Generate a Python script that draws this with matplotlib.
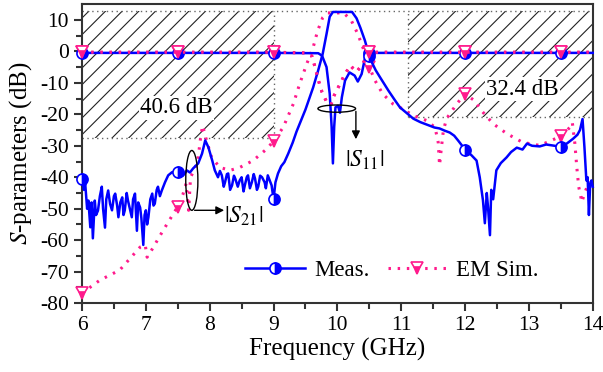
import numpy as np
import matplotlib
matplotlib.use("Agg")
import matplotlib.pyplot as plt
from matplotlib.patches import Rectangle, Ellipse

plt.rcParams['font.family'] = 'serif'
plt.rcParams['font.serif'] = ['Liberation Serif', 'DejaVu Serif']
plt.rcParams['mathtext.fontset'] = 'stix'
plt.rcParams['axes.unicode_minus'] = False
plt.rcParams['hatch.linewidth'] = 0.8

# ---------------- data ----------------
meas_s21_f = [6.0, 6.03, 6.05, 6.08, 6.1, 6.13, 6.15, 6.17, 6.2, 6.22, 6.25, 6.28, 6.31, 6.33,
              6.36, 6.38, 6.41, 6.44, 6.47, 6.5, 6.52, 6.55, 6.57, 6.6, 6.63, 6.65, 6.67,
              6.7, 6.72, 6.75, 6.78, 6.8, 6.83, 6.86, 6.88, 6.91, 6.93, 6.96, 6.98, 7.0,
              7.02, 7.04, 7.07, 7.1, 7.12, 7.14, 7.17, 7.19, 7.22, 7.25, 7.3, 7.35, 7.41,
              7.5, 7.53, 7.58, 7.61, 7.64, 7.69, 7.74, 7.82, 7.88, 7.93, 7.98, 8.04, 8.08,
              8.13, 8.16, 8.19, 8.22, 8.24, 8.27, 8.29, 8.32, 8.35, 8.38, 8.4, 8.44, 8.47,
              8.5, 8.53, 8.55, 8.58, 8.6, 8.63, 8.66, 8.69, 8.71, 8.74, 8.76, 8.79, 8.82,
              8.86, 8.88, 8.91, 8.94, 8.97, 9.0, 9.03, 9.07, 9.12, 9.17, 9.23, 9.3, 9.36,
              9.41, 9.5, 9.56, 9.62, 9.7, 9.77, 9.83, 9.88, 9.93, 10.05, 10.15, 10.23,
              10.3, 10.36, 10.43, 10.5, 10.54, 10.6, 10.67, 10.8, 10.9, 10.98, 11.13,
              11.19, 11.3, 11.44, 11.52, 11.6, 11.68, 11.76, 11.83, 11.89, 12.0, 12.1,
              12.18, 12.23, 12.28, 12.31, 12.34, 12.36, 12.39, 12.41, 12.44, 12.49, 12.56,
              12.65, 12.72, 12.81, 12.9, 12.97, 13.05, 13.17, 13.27, 13.37, 13.5, 13.6,
              13.69, 13.76, 13.8, 13.84, 13.87, 13.9, 13.92, 13.94, 13.96, 13.98, 14.0]
meas_s21_db = [-40.4, -44.0, -42.0, -50.0, -47.4, -55.9, -48.0, -59.4, -47.4, -52.0, -50.6,
               -46.0, -43.0, -50.0, -56.0, -47.0, -44.2, -48.5, -50.5, -46.0, -45.2, -49.0,
               -52.7, -48.0, -46.4, -52.0, -50.5, -45.0, -47.4, -50.0, -52.7, -47.0, -45.2,
               -57.0, -48.0, -49.6, -53.0, -61.5, -52.0, -50.5, -55.0, -52.7, -47.0, -45.2,
               -49.0, -48.4, -44.0, -43.0, -46.0, -44.2, -41.6, -39.4, -38.4, -38.4, -38.4,
               -39.5, -38.8, -37.8, -38.5, -37.2, -35.6, -32.5, -28.3, -30.5, -34.7, -37.8,
               -40.0, -38.0, -39.4, -43.0, -41.6, -39.0, -38.8, -44.0, -42.6, -39.5, -40.4,
               -43.0, -41.0, -40.0, -44.5, -42.6, -40.0, -39.4, -43.5, -41.6, -39.0, -40.4,
               -44.0, -43.0, -39.5, -40.0, -41.6, -43.5, -39.4, -41.0, -42.6, -47.0, -41.6,
               -38.8, -36.5, -35.2, -32.5, -29.0, -25.5, -23.0, -18.5, -15.0, -11.5, -6.0,
               -0.8, 5.5, 11.0, 12.5, 12.5, 12.5, 12.5, 10.5, 7.5, 3.5, -1.5, -3.5, -6.0,
               -8.3, -12.5, -15.5, -17.8, -20.4, -21.4, -22.5, -23.6, -24.2, -24.5, -25.2,
               -25.8, -26.8, -28.3, -31.2, -33.0, -34.7, -40.0, -47.3, -54.6, -45.0, -49.6,
               -58.4, -44.0, -47.0, -37.8, -35.5, -33.7, -32.0, -30.6, -31.2, -29.3, -30.0,
               -30.2, -29.6, -29.9, -30.3, -29.2, -27.8, -26.5, -25.0, -21.5, -30.5, -41.0,
               -40.0, -52.0, -42.0, -41.0, -43.0]

meas_s11_f = [6.0, 7.5, 9.0, 9.7, 9.76, 9.83, 9.88, 9.91, 9.93, 9.95, 9.97, 10.01, 10.04,
              10.07, 10.12, 10.19, 10.27, 10.32, 10.38, 10.43, 10.5, 12.0, 13.5, 14.0]
meas_s11_db = [-0.5, -0.5, -0.5, -0.6, -1.4, -5.0, -13.5, -24.0, -35.6, -24.0, -17.8, -17.3,
               -19.5, -14.6, -9.3, -6.7, -7.7, -9.6, -7.2, -2.4, -0.5, -0.5, -0.5, -0.5]

sim_s21_f = [6.0, 6.28, 6.59, 6.91, 6.99, 7.02, 7.06, 7.27, 7.5, 7.58, 7.63, 7.67, 7.7,
             7.77, 7.82, 7.86, 7.89, 7.95, 8.03, 8.16, 8.32, 8.47, 8.68, 8.9, 9.0, 9.15,
             9.31, 9.41, 9.52, 9.62, 9.69, 9.77, 9.85, 10.1, 10.22, 10.32, 10.4, 10.5,
             10.59, 10.71, 10.87, 10.98, 11.19, 11.4, 11.53, 11.58, 11.6, 11.63, 11.66,
             11.71, 11.87, 12.0, 12.15, 12.26, 12.44, 12.65, 12.9, 13.17, 13.5, 13.64,
             13.68, 13.72, 13.75, 13.78, 13.83, 13.87, 13.92, 14.0]
sim_s21_db = [-76.8, -72.7, -69.5, -62.2, -61.5, -65.4, -64.2, -56.9, -49.3, -45.5, -42.0,
              -50.5, -40.0, -37.2, -33.7, -27.0, -23.6, -28.3, -33.7, -36.9, -37.8, -36.9,
              -34.7, -30.9, -28.5, -24.2, -16.7, -10.3, -4.0, 1.2, 6.5, 10.7, 12.2, 12.2,
              9.7, 5.5, 1.2, -5.0, -9.3, -13.5, -16.7, -17.8, -20.4, -22.0, -24.2, -29.0,
              -36.2, -30.5, -25.2, -21.4, -16.7, -13.5, -15.7, -18.9, -23.0, -26.1, -28.9,
              -29.9, -27.0, -24.2, -22.6, -29.3, -36.8, -43.0, -47.9, -45.2, -42.6, -41.0]

sim_s11_f = [6.0, 7.5, 9.0, 9.5, 9.6, 9.65, 9.7, 9.76, 9.83, 9.9, 9.95, 10.0, 10.05, 10.1,
             10.2, 10.3, 10.4, 10.45, 10.5, 12.0, 13.5, 14.0]
sim_s11_db = [-0.3, -0.3, -0.3, -0.5, -1.5, -5.0, -9.0, -13.0, -16.0, -17.0, -14.0, -12.0,
              -10.0, -8.0, -4.5, -6.5, -4.0, -2.0, -0.3, -0.3, -0.3, -0.3]

marker_f = [6.0, 7.5, 9.0, 10.5, 12.0, 13.5]

x_ticks = [6, 7, 8, 9, 10, 11, 12, 13, 14]
y_ticks = [-80, -70, -60, -50, -40, -30, -20, -10, 0, 10]

mask_levels = [12.7, -27.6, -21.0]        # top of masks, bottom left, bottom right
mask_bands = [(6.0, 9.0), (11.1, 14.0)]
mask_labels = ['40.6 dB', '32.4 dB']

# ---------------- figure ----------------
fig = plt.figure(figsize=(6.03, 3.72), dpi=100)
ax = fig.add_axes([0.136, 0.185, 0.847, 0.804])

blue = '#0000FF'
pink = '#FF1A8C'
dotc = '#666666'
dotls = (0, (1, 2.5))

# hatched masks
for (x0, x1), yb in zip(mask_bands, mask_levels[1:]):
    ax.add_patch(Rectangle((x0, yb), x1 - x0, mask_levels[0] - yb, facecolor='none',
                           edgecolor='#222222', linewidth=0, hatch='//', zorder=1))
    ax.plot([x0, x1], [yb, yb], color=dotc, lw=1.0, ls=dotls, zorder=1.5)
    xv = x1 if x0 == 6.0 else x0
    ax.plot([xv, xv], [yb, mask_levels[0]], color=dotc, lw=1.0, ls=dotls, zorder=1.5)
ax.plot([6, 14], [mask_levels[0], mask_levels[0]], color=dotc, lw=1.0, ls=dotls, zorder=1.5)

ax.text(7.48, -17.9, mask_labels[0], fontsize=16.5, ha='center', va='center', zorder=2,
        bbox=dict(facecolor='white', edgecolor='none', pad=1))
ax.text(12.9, -12.0, mask_labels[1], fontsize=16.5, ha='center', va='center', zorder=2,
        bbox=dict(facecolor='white', edgecolor='none', pad=1))

def plot_series(f, v, color, ls, lw, marker, fill, label=None):
    f = np.asarray(f); v = np.asarray(v)
    idx = np.where(np.isin(np.round(f, 3), np.round(marker_f, 3)))[0].tolist()
    line, = ax.plot(f, v, color=color, lw=lw, ls=ls, marker=marker, markevery=idx,
                    markersize=8, fillstyle=fill, markerfacecoloralt='white',
                    markeredgecolor=color, markeredgewidth=1.2, label=label, zorder=3,
                    clip_on=False)
    return line

dots = (0, (0.8, 2.2))
plot_series(sim_s11_f, sim_s11_db, pink, dots, 2.2, 'v', 'bottom')
plot_series(sim_s21_f, sim_s21_db, pink, dots, 2.2, 'v', 'bottom')
l1 = plot_series(meas_s11_f, meas_s11_db, blue, '-', 1.8, 'o', 'right', label='Meas.')
plot_series(meas_s21_f, meas_s21_db, blue, '-', 1.8, 'o', 'right')
l2 = plot_series(sim_s11_f, sim_s11_db, pink, dots, 2.2, 'v', 'bottom', label='EM Sim.')

# annotations
ax.add_patch(Ellipse((7.72, -41.0), 0.19, 19.0, facecolor='none', edgecolor='black', lw=1.0, zorder=4))
ax.annotate('', xy=(8.27, -50.5), xytext=(7.72, -50.5),
            arrowprops=dict(arrowstyle='-|>', color='black', lw=1.0, mutation_scale=12), zorder=4)
ax.text(8.53, -52.5, r'$|S_{21}|$', fontsize=17, ha='center', va='center', zorder=4)

ax.add_patch(Ellipse((9.99, -18.2), 0.59, 2.3, facecolor='none', edgecolor='black', lw=1.0, zorder=4))
ax.annotate('', xy=(10.29, -28.8), xytext=(10.29, -18.2),
            arrowprops=dict(arrowstyle='-|>', color='black', lw=1.0, mutation_scale=12), zorder=4)
ax.text(10.42, -34.7, r'$|S_{11}|$', fontsize=17, ha='center', va='center', zorder=4)

# axes
ax.set_xlim(6, 14)
ax.set_ylim(-80, 15)
ax.set_xticks(x_ticks)
ax.set_yticks(y_ticks)
ax.set_xticks(np.arange(6.5, 14, 1.0), minor=True)
ax.set_yticks(np.arange(-75, 15, 10.0), minor=True)
ax.tick_params(which='both', direction='out', width=1.5, colors='#333333', labelcolor='black',
               labelsize=15.5, top=False, right=False)
ax.tick_params(which='major', length=6)
ax.tick_params(which='minor', length=4)
for s in ax.spines.values():
    s.set_linewidth(1.5)
    s.set_color('#333333')

ax.set_xlabel('Frequency (GHz)', fontsize=18, labelpad=2)
ax.set_ylabel(r'$S$-parameters (dB)', fontsize=18, labelpad=4)

ax.legend(handles=[l1, l2], loc='center', bbox_to_anchor=(0.607, 0.109), ncol=2, frameon=False,
          fontsize=16.5, handlelength=2.6, columnspacing=0.8, handletextpad=0.4,
          markerscale=1.0)

fig.savefig('out.png', dpi=100)
